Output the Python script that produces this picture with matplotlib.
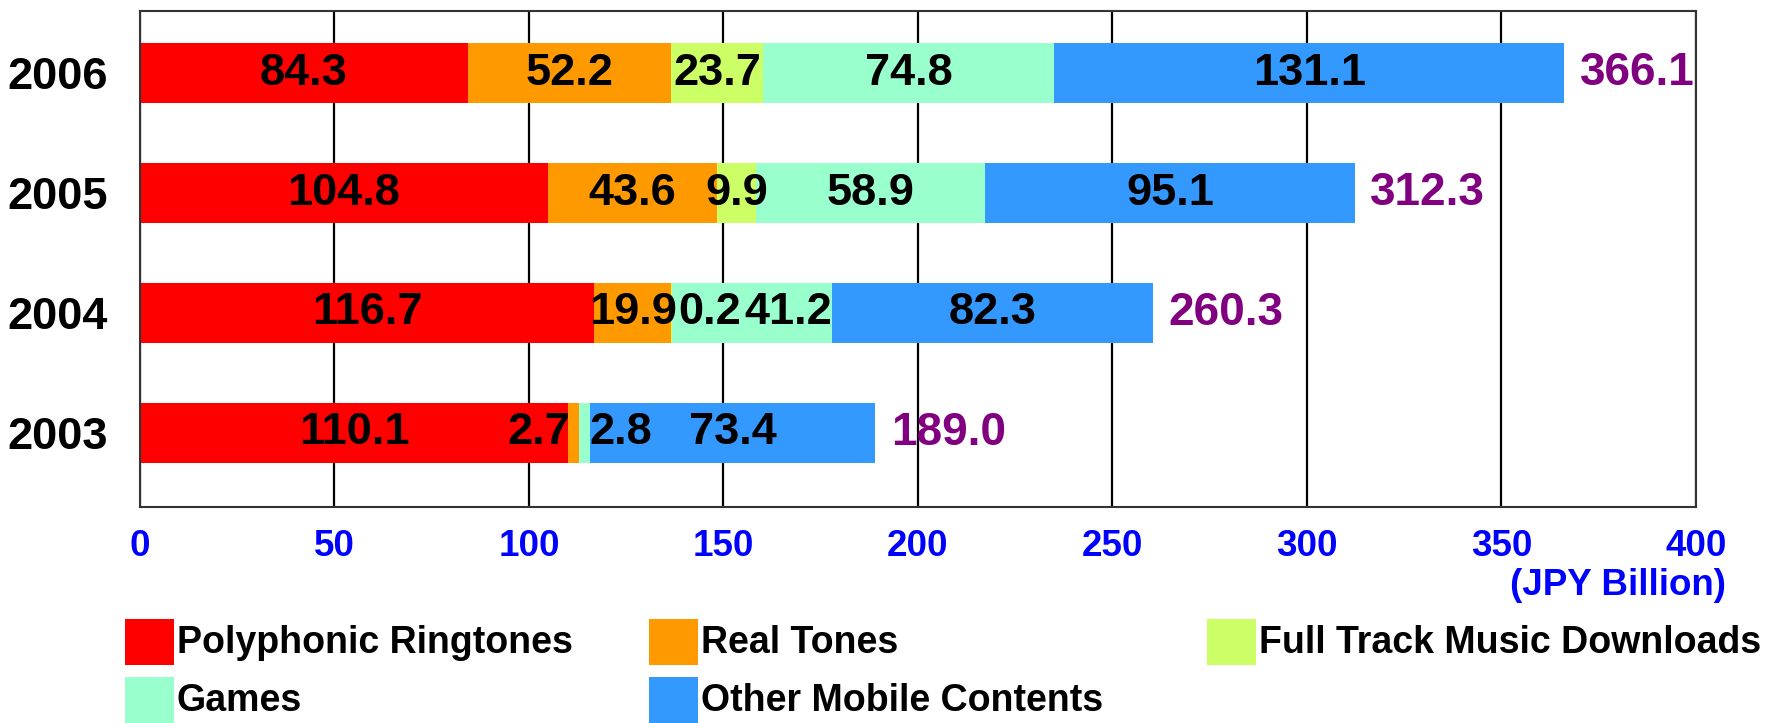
import matplotlib
matplotlib.use("Agg")
import matplotlib.pyplot as plt
import numpy as np
from matplotlib.patches import Rectangle

plt.rcParams['font.family'] = ['Liberation Sans', 'DejaVu Sans']
plt.rcParams['font.weight'] = 'bold'

# mobile content market by category, JPY billion
years = ["2003", "2004", "2005", "2006"]
polyphonic = [110.1, 116.7, 104.8, 84.3]
real_tones = [2.7, 19.9, 43.6, 52.2]
full_track = [0.0, 0.2, 9.9, 23.7]
games = [2.8, 41.2, 58.9, 74.8]
other = [73.4, 82.3, 95.1, 131.1]
totals = [189.0, 260.3, 312.3, 366.1]

series = [polyphonic, real_tones, full_track, games, other]
names = ["Polyphonic Ringtones", "Real Tones", "Full Track Music Downloads",
         "Games", "Other Mobile Contents"]
colors = ["#FF0000", "#FF9900", "#CCFF66", "#99FFCC", "#3399FF"]

# nudge the labels of the thin segments so they don't collide
label_shift = {(0, 1): -9, (0, 3): 9.5, (1, 2): 9.8, (1, 3): 9.2}

W, H = 1783, 723
fig = plt.figure(figsize=(W / 100, H / 100), dpi=100)
ax = fig.add_axes([140 / W, 1 - 507 / H, 1556 / W, 496 / H])

y = np.arange(len(years))
left = np.zeros(len(years))
for s, (vals, col) in enumerate(zip(series, colors)):
    vals = np.array(vals)
    ax.barh(y, vals, left=left, height=0.5, color=col, zorder=2)
    for i, v in enumerate(vals):
        if v <= 0:
            continue
        xc = left[i] + v / 2 + label_shift.get((i, s), 0)
        ax.text(xc, y[i], f"{v:.1f}", ha='center', va='center',
                fontsize=32.5, color='black', zorder=3)
    left += vals

for i, t in enumerate(totals):
    ax.text(t + 4, y[i], f"{t:.1f}", ha='left', va='center',
            fontsize=33, color='#800080')

ax.set_xlim(0, 400)
ax.set_ylim(-0.62, 3.52)
ax.set_xticks(np.arange(0, 401, 50))
ax.set_yticks(y)
ax.set_yticklabels(years)
ax.tick_params(axis='x', length=0, pad=16, labelsize=26.5, labelcolor='#0000FF')
ax.tick_params(axis='y', length=0, pad=23, labelsize=32.5)
ax.grid(axis='x', color='black', linewidth=1.6, zorder=0)
ax.set_axisbelow(True)
for sp in ax.spines.values():
    sp.set_color('#333333')
    sp.set_linewidth(1.5)

ax.text(1.0195, -0.159, "(JPY Billion)", transform=ax.transAxes, ha='right',
        va='center', fontsize=26.5, color='#0000FF')

# legend laid out on a fixed grid: 3 columns, 2 rows
col_x = [125, 649, 1207]
row_top = [619, 677]
sw, sh = 49, 46
for k, (name, col) in enumerate(zip(names, colors)):
    r, c = divmod(k, 3)
    x0, y0 = col_x[c], row_top[r]
    fig.add_artist(Rectangle((x0 / W, 1 - (y0 + sh) / H), sw / W, sh / H,
                             facecolor=col, edgecolor='none',
                             transform=fig.transFigure))
    fig.text((x0 + sw + 3) / W, 1 - (y0 + sh / 2 + 1) / H, name,
             ha='left', va='center', fontsize=27, color='black')

fig.savefig("out.png", dpi=100)
